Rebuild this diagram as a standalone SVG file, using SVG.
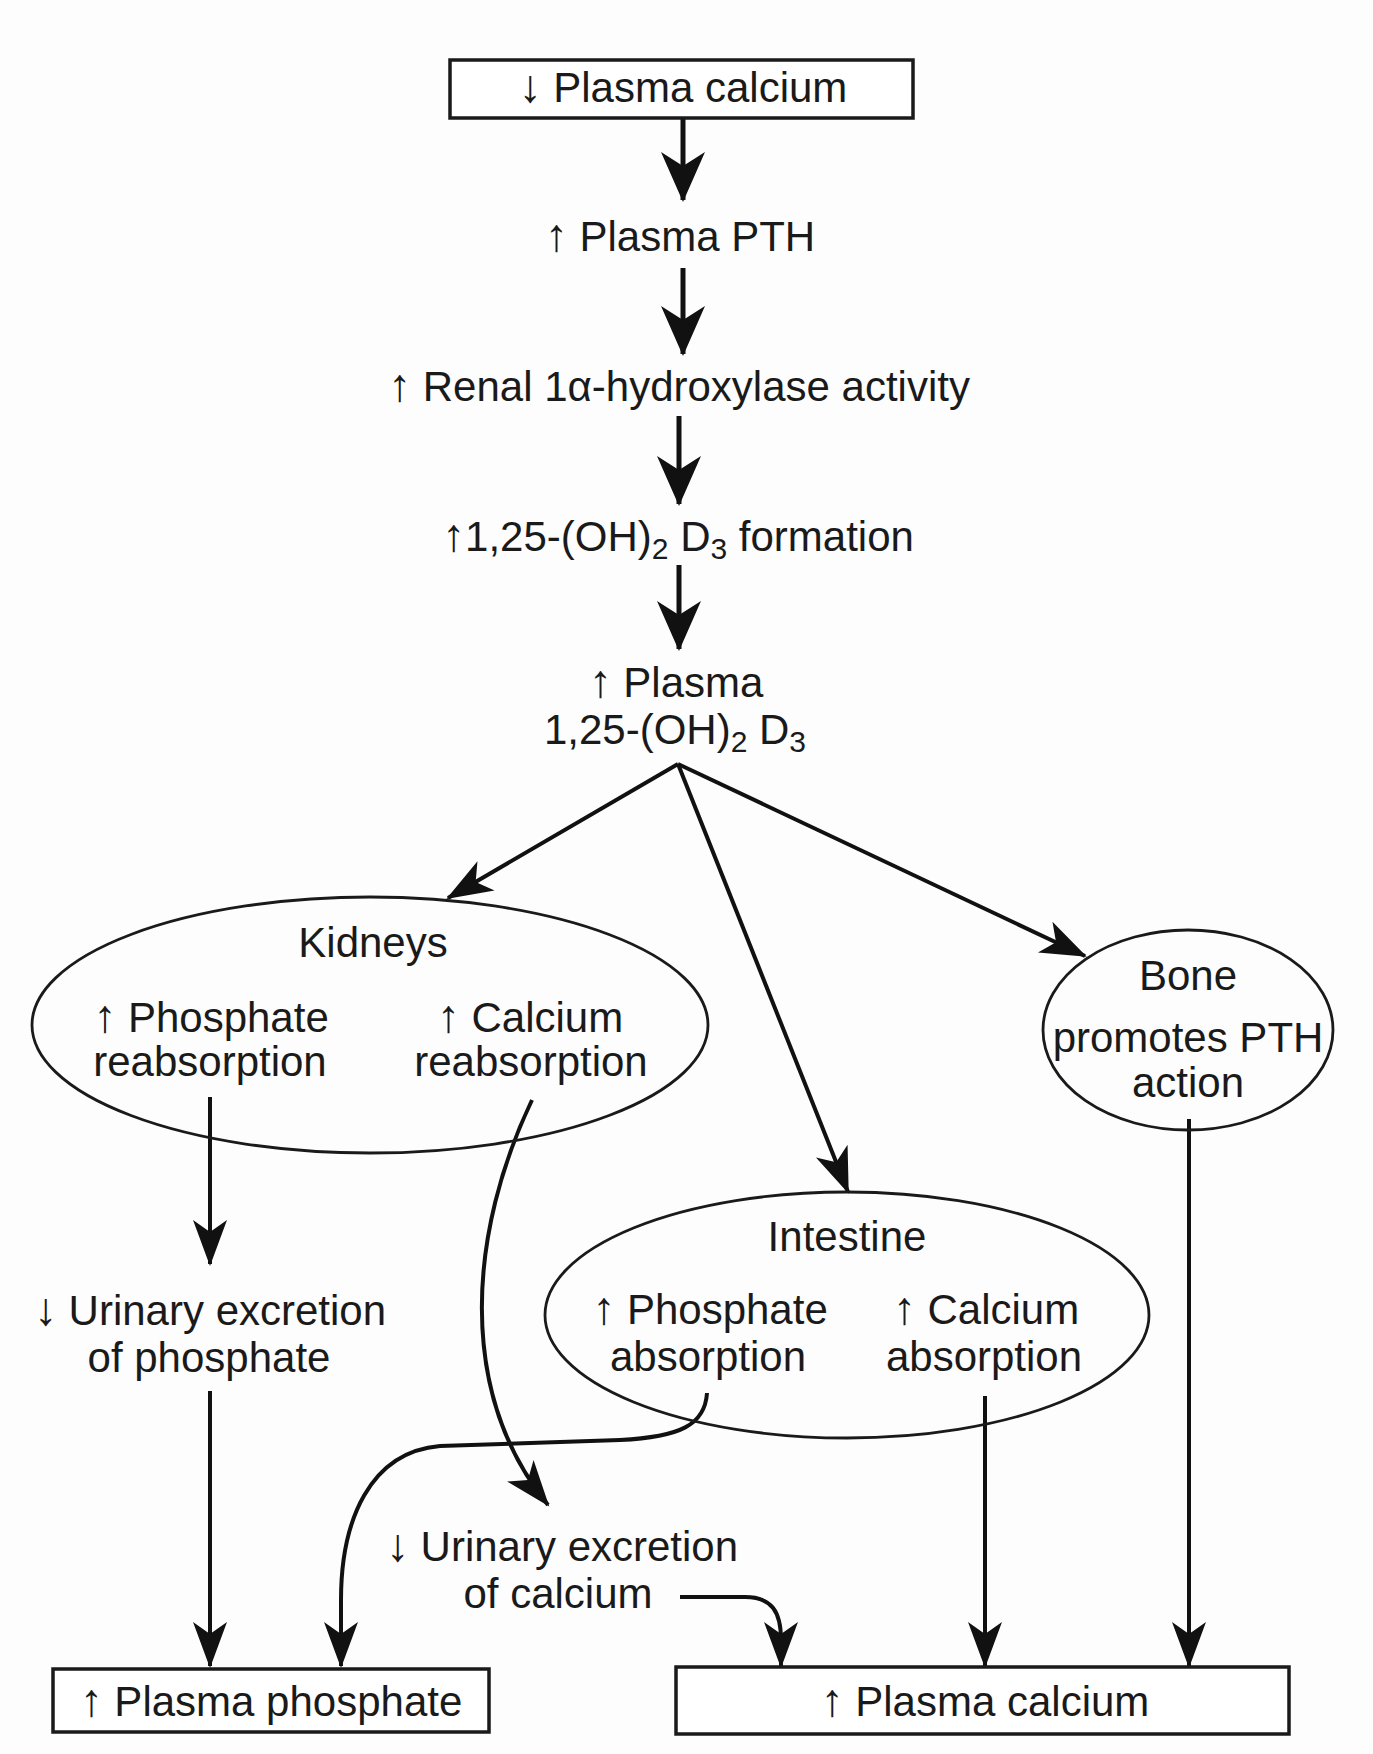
<svg xmlns="http://www.w3.org/2000/svg" width="1373" height="1754" viewBox="0 0 1373 1754">
<style>
.t{font-family:"Liberation Sans",Arial,Helvetica,sans-serif;font-size:42px;fill:#1a1a1a;text-anchor:middle}
.sub{font-size:30px}
.ar{font-weight:bold;font-size:46px}
.box{fill:#fff;stroke:#1a1a1a;stroke-width:3.5}
.ell{fill:none;stroke:#1a1a1a;stroke-width:2.8}
.c{fill:none;stroke:#111;stroke-width:4}
.cb{fill:none;stroke:#111;stroke-width:5}
</style>
<defs>
<marker id="big" markerUnits="userSpaceOnUse" viewBox="-52 -26 56 52" markerWidth="56" markerHeight="52" refX="0" refY="0" orient="auto">
<path d="M2,0 L-48,-22 L-34,0 L-48,22 Z" fill="#111"/>
</marker>
<marker id="sm" markerUnits="userSpaceOnUse" viewBox="-50 -22 54 44" markerWidth="54" markerHeight="44" refX="0" refY="0" orient="auto">
<path d="M2,0 L-44,-17 L-32,0 L-44,17 Z" fill="#111"/>
</marker>
</defs>
<rect width="1373" height="1754" fill="#fdfdfd"/>

<g id="connectors">
<path class="cb" d="M683,118 L683,200" marker-end="url(#big)"/>
<path class="cb" d="M683,268 L683,354" marker-end="url(#big)"/>
<path class="cb" d="M679,416 L679,504" marker-end="url(#big)"/>
<path class="cb" d="M679,565 L679,649" marker-end="url(#big)"/>
<path class="c" d="M678,764 L448,898" marker-end="url(#sm)"/>
<path class="c" d="M678,764 L848,1192" marker-end="url(#sm)"/>
<path class="c" d="M678,764 L1085,956" marker-end="url(#sm)"/>
<path class="c" d="M210,1097 L210,1264" marker-end="url(#sm)"/>
<path class="c" d="M210,1391 L210,1666" marker-end="url(#sm)"/>
<path class="c" d="M532,1100 C470,1230 455,1390 548,1505" marker-end="url(#sm)"/>
<path class="c" d="M707,1393 C705,1425 680,1437 620,1440 L440,1446 C370,1452 341,1520 341,1600 L341,1666" marker-end="url(#sm)"/>
<path class="c" d="M680,1597 L745,1597 C772,1597 781,1612 781,1640 L781,1666" marker-end="url(#sm)"/>
<path class="c" d="M985,1396 L985,1666" marker-end="url(#sm)"/>
<path class="c" d="M1189,1119 L1189,1666" marker-end="url(#sm)"/>
</g>

<g id="n-plasma-ca-low">
<rect class="box" x="450" y="60" width="463" height="58"/>
<text class="t" x="683" y="102"><tspan class="ar">↓</tspan> Plasma calcium</text>
</g>
<g id="n-pth">
<text class="t" x="680" y="251"><tspan class="ar">↑</tspan> Plasma PTH</text>
</g>
<g id="n-hydroxylase">
<text class="t" x="679" y="401"><tspan class="ar">↑</tspan> Renal 1α-hydroxylase activity</text>
</g>
<g id="n-formation">
<text class="t" x="678" y="551"><tspan class="ar">↑</tspan>1,25-(OH)<tspan class="sub" dy="8">2</tspan><tspan dy="-8"> D</tspan><tspan class="sub" dy="8">3</tspan><tspan dy="-8"> formation</tspan></text>
</g>
<g id="n-plasma-d3">
<text class="t" x="676" y="697"><tspan class="ar">↑</tspan> Plasma</text>
<text class="t" x="675" y="744">1,25-(OH)<tspan class="sub" dy="8">2</tspan><tspan dy="-8"> D</tspan><tspan class="sub" dy="8">3</tspan></text>
</g>
<g id="n-kidneys">
<ellipse class="ell" cx="370" cy="1025" rx="338" ry="128"/>
<text class="t" x="373" y="957">Kidneys</text>
<text class="t" x="211" y="1032"><tspan class="ar">↑</tspan> Phosphate</text>
<text class="t" x="210" y="1076">reabsorption</text>
<text class="t" x="530" y="1032"><tspan class="ar">↑</tspan> Calcium</text>
<text class="t" x="531" y="1076">reabsorption</text>
</g>
<g id="n-bone">
<ellipse class="ell" cx="1188" cy="1030" rx="145" ry="100"/>
<text class="t" x="1188" y="990">Bone</text>
<text class="t" x="1188" y="1052">promotes PTH</text>
<text class="t" x="1188" y="1097">action</text>
</g>
<g id="n-intestine">
<ellipse class="ell" cx="847" cy="1315" rx="302" ry="123"/>
<text class="t" x="847" y="1251">Intestine</text>
<text class="t" x="710" y="1324"><tspan class="ar">↑</tspan> Phosphate</text>
<text class="t" x="708" y="1371">absorption</text>
<text class="t" x="986" y="1324"><tspan class="ar">↑</tspan> Calcium</text>
<text class="t" x="984" y="1371">absorption</text>
</g>
<g id="n-urinary-phos">
<text class="t" x="210" y="1325"><tspan class="ar">↓</tspan> Urinary excretion</text>
<text class="t" x="209" y="1372">of phosphate</text>
</g>
<g id="n-urinary-ca">
<text class="t" x="562" y="1561"><tspan class="ar">↓</tspan> Urinary excretion</text>
<text class="t" x="558" y="1608">of calcium</text>
</g>
<g id="n-plasma-phos">
<rect class="box" x="53" y="1669" width="436" height="63"/>
<text class="t" x="271" y="1716"><tspan class="ar">↑</tspan> Plasma phosphate</text>
</g>
<g id="n-plasma-ca-high">
<rect class="box" x="676" y="1667" width="613" height="67"/>
<text class="t" x="985" y="1716"><tspan class="ar">↑</tspan> Plasma calcium</text>
</g>
</svg>
